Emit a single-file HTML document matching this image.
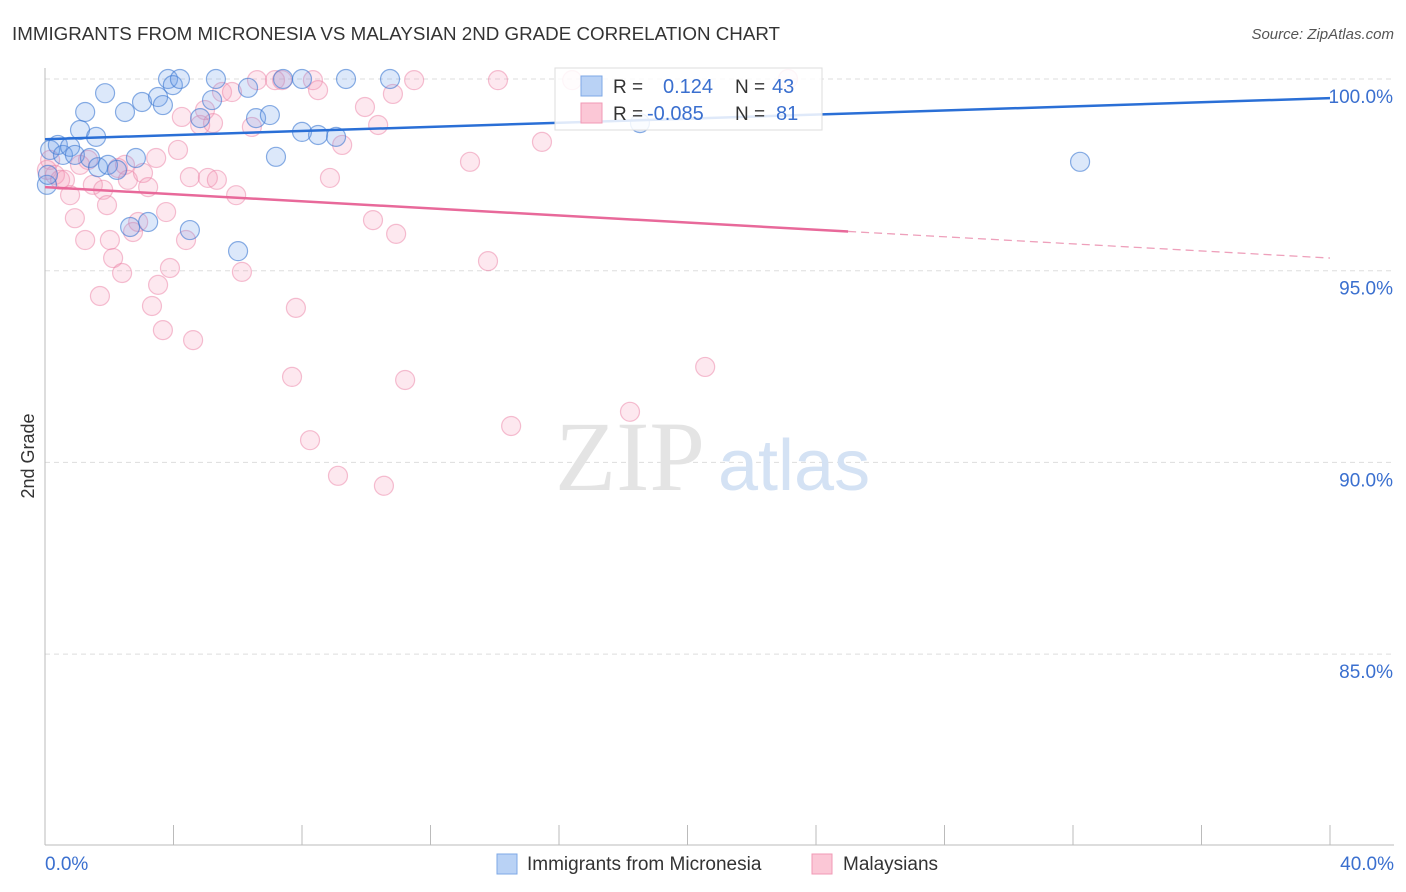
<!DOCTYPE html>
<html><head><meta charset="utf-8"><style>
body{margin:0;background:#fff;font-family:"Liberation Sans",sans-serif;}
#c{position:relative;width:1406px;height:892px;overflow:hidden;}
</style></head><body>
<div id="c">
<svg id="s" width="1406" height="892" xmlns="http://www.w3.org/2000/svg">
<text x="12" y="40" font-size="18" fill="#333" textLength="768" lengthAdjust="spacingAndGlyphs">IMMIGRANTS FROM MICRONESIA VS MALAYSIAN 2ND GRADE CORRELATION CHART</text>
<text x="1394" y="39" font-size="15" fill="#555" font-style="italic" text-anchor="end">Source: ZipAtlas.com</text>
<text x="34" y="456" font-size="18" fill="#333" transform="rotate(-90 34 456)" text-anchor="middle">2nd Grade</text>
<g id="grid"></g>
<text x="555" y="490" font-size="100" fill="#e4e4e4" font-family="Liberation Serif">ZIP</text>
<text x="718" y="490" font-size="72" fill="#d4e2f4">atlas</text>
<g id="pts"></g>
<g id="lines"></g>
<g>
<rect x="555" y="68" width="267" height="62" fill="#fff" fill-opacity="0.85" stroke="#ddd"/>
<rect x="581" y="76" width="21" height="20" fill="#b9d2f5" stroke="#7ea8e6"/>
<rect x="581" y="103" width="21" height="20" fill="#fbc7d6" stroke="#f09ab5"/>
<text x="613" y="93" font-size="19" fill="#333">R =</text>
<text x="663" y="93" font-size="20" fill="#3a6fcf">0.124</text>
<text x="735" y="93" font-size="19" fill="#333">N =</text>
<text x="772" y="93" font-size="20" fill="#3a6fcf">43</text>
<text x="613" y="120" font-size="19" fill="#333">R =</text>
<text x="647" y="120" font-size="20" fill="#3a6fcf">-0.085</text>
<text x="735" y="120" font-size="19" fill="#333">N =</text>
<text x="776" y="120" font-size="20" fill="#3a6fcf">81</text>
</g>
<g>
<rect x="497" y="854" width="20" height="20" fill="#b9d2f5" stroke="#7ea8e6"/>
<text x="527" y="870" font-size="19" fill="#333">Immigrants from Micronesia</text>
<rect x="812" y="854" width="20" height="20" fill="#fbc7d6" stroke="#f09ab5"/>
<text x="843" y="870" font-size="19" fill="#333">Malaysians</text>
</g>
</svg>
</div>
<script>
const xTicks=[0,4,8,12,16,20,24,28,32,36,40];
const yTicks=[100,95,90,85];
const yTickLabels=["100.0%","95.0%","90.0%","85.0%"];
const xLabels=["0.0%","40.0%"];
const blueX=[0.16,0.06,0.40,0.56,0.78,0.93,1.09,1.25,1.40,1.59,1.65,1.87,1.96,2.24,2.49,2.65,2.83,3.02,3.21,3.52,3.67,3.83,3.98,4.20,4.51,4.83,5.20,5.32,6.01,6.32,6.57,7.00,7.19,7.41,8.00,8.00,8.50,9.06,9.37,10.74,18.52,32.22,0.09];
const blueY=[98.15,97.24,98.28,98.02,98.23,98.02,98.67,99.14,97.94,98.49,97.70,99.63,97.76,97.63,99.14,96.14,97.94,99.40,96.27,99.53,99.32,100,99.84,100,96.06,98.98,99.45,100,95.51,99.77,98.98,99.06,97.97,100,100,98.62,98.54,98.49,100,100,98.85,97.84,97.5];
const pinkX=[0.06,0.16,0.31,0.47,0.62,0.78,0.93,1.09,1.25,1.34,1.49,1.71,1.81,1.93,2.02,2.12,2.27,2.40,2.49,2.58,2.74,2.90,3.05,3.21,3.33,3.46,3.52,3.67,3.77,3.89,4.14,4.26,4.39,4.51,4.61,4.83,4.98,5.07,5.23,5.35,5.51,5.82,5.95,6.13,6.44,6.60,7.16,7.38,7.69,7.81,8.25,8.34,8.50,8.87,9.12,9.25,9.96,10.21,10.37,10.55,10.83,10.93,11.21,11.49,13.23,13.79,14.10,14.51,15.47,16.41,18.21,20.55,23.13];
const pinkY=[97.63,97.89,97.50,97.37,97.37,96.97,96.37,97.76,95.80,97.89,97.24,94.34,97.11,96.71,95.80,95.33,97.68,94.94,97.76,97.37,96.01,96.27,97.55,97.18,94.08,97.94,94.63,93.45,96.53,95.07,98.15,99.01,95.80,97.44,93.19,98.80,99.19,97.42,98.85,97.37,99.66,99.66,96.97,94.97,98.75,99.97,99.97,99.97,92.23,94.03,90.58,99.97,99.71,97.42,89.65,98.28,99.27,96.32,98.80,89.39,99.61,95.96,92.15,99.97,97.84,95.25,99.97,90.95,98.36,99.97,91.32,92.49,100];
const blueTrend=[98.43,99.50];
const pinkTrend=[97.18,95.33];
const pinkSolidEnd=25.0;
const X=v=>45+v/40*1285, Y=v=>79+(100-v)/5*191.7;
const NS="http://www.w3.org/2000/svg";
function mk(p,t,a){const e=document.createElementNS(NS,t);for(const k in a)e.setAttribute(k,a[k]);p.appendChild(e);return e;}
const g=document.getElementById('grid');
yTicks.forEach((t,i)=>{
 const l=mk(g,'line',{x1:45,x2:1394,y1:Y(t),y2:Y(t),stroke:'#ddd','stroke-dasharray':'5,4'});
 
 
 const tx=mk(g,'text',{x:1393,y:Y(t)+24,'font-size':19,fill:'#3a6fcf','text-anchor':'end'});
 tx.textContent=yTickLabels[i];
 
 
});
const ax=mk(g,'line',{x1:45,x2:45,y1:68,y2:845,stroke:'#bbb'});


const bx=mk(g,'line',{x1:45,x2:1394,y1:845,y2:845,stroke:'#bbb'});


xTicks.forEach(t=>{
 const l=mk(g,'line',{x1:X(t),x2:X(t),y1:825,y2:845,stroke:'#bbb'});
 
 
});
[[0,'start',45],[40,'end',1394]].forEach((d,i)=>{
 const tx=mk(g,'text',{x:d[2],y:870,'font-size':19,fill:'#3a6fcf','text-anchor':d[1]});
 tx.textContent=xLabels[i];
 
 
});
const pg=document.getElementById('pts');
pinkX.forEach((x,i)=>{
 const c=mk(pg,'circle',{cx:X(x),cy:Y(pinkY[i]),r:9.5,fill:'rgba(244,150,180,0.22)',stroke:'rgba(236,130,165,0.5)','stroke-width':1.2});
 
 
});
blueX.forEach((x,i)=>{
 const c=mk(pg,'circle',{cx:X(x),cy:Y(blueY[i]),r:9.5,fill:'rgba(110,160,235,0.24)',stroke:'rgba(60,120,210,0.6)','stroke-width':1.2});
 
 
});
const lg=document.getElementById('lines');
const bl=mk(lg,'line',{x1:X(0),y1:Y(blueTrend[0]),x2:X(40),y2:Y(blueTrend[1]),stroke:'#2a6fd6','stroke-width':2.5});


const pm=pinkTrend[0]+(pinkTrend[1]-pinkTrend[0])*pinkSolidEnd/40;
const pl=mk(lg,'line',{x1:X(0),y1:Y(pinkTrend[0]),x2:X(pinkSolidEnd),y2:Y(pm),stroke:'#e8699a','stroke-width':2.5});


const pd=mk(lg,'line',{x1:X(pinkSolidEnd),y1:Y(pm),x2:X(40),y2:Y(pinkTrend[1]),stroke:'#eea0bb','stroke-width':1.3,'stroke-dasharray':'8,5'});


</script>
</body></html>
